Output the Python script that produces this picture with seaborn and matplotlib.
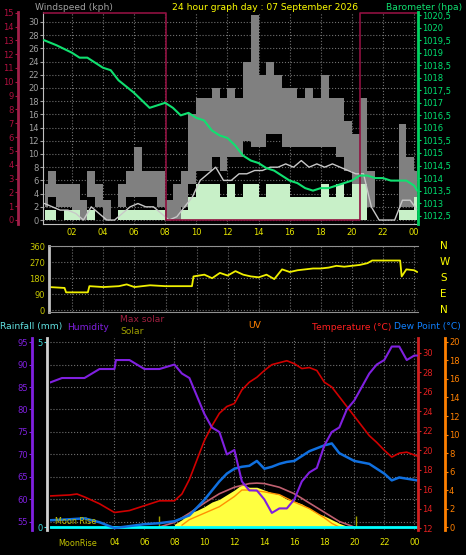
import numpy as np
import pandas as pd
import matplotlib
matplotlib.use("Agg")
import matplotlib.pyplot as plt
import seaborn as sns

sns.set_style("dark")
plt.rcParams['font.family'] = ['DejaVu Sans']

# ---------------- data ----------------
baro_t = [0.2, 1, 2, 2.5, 3, 4, 4.5, 5, 6, 6.5, 7, 7.5, 8, 8.5, 9, 9.5, 10, 10.5, 11, 11.5, 12, 12.5, 13, 13.5, 14, 14.5, 15, 15.5, 16, 16.5, 17, 17.5, 18, 18.5, 19, 19.5, 20, 20.5, 21, 21.5, 22, 22.5, 23, 23.5, 24.0, 24.2]
baro_v = [1019.5, 1019.3, 1019.0, 1018.8, 1018.8, 1018.4, 1018.3, 1017.9, 1017.4, 1017.1, 1016.8, 1016.9, 1017.0, 1016.8, 1016.5, 1016.6, 1016.4, 1016.3, 1015.9, 1015.7, 1015.6, 1015.3, 1014.9, 1014.7, 1014.6, 1014.4, 1014.3, 1014.1, 1013.9, 1013.8, 1013.6, 1013.5, 1013.6, 1013.6, 1013.7, 1013.8, 1013.9, 1014.1, 1014.1, 1014.0, 1014.0, 1013.9, 1013.9, 1013.9, 1013.7, 1013.5]

dark_t = [0.15, 8.05, 8.05, 20.5, 20.5, 24.25]
dark_v = [15, 15, 0, 0, 15, 15]

wind_t = [0.25, 0.75, 1.25, 1.75, 2.25, 2.75, 3.25, 3.75, 4.25, 4.75, 5.25, 5.75, 6.25, 6.75, 7.25, 7.75,
          8.25, 8.75, 9.25, 9.75, 10.25, 10.75, 11.25, 11.75, 12.25, 12.75, 13.25, 13.75, 14.25, 14.75,
          15.25, 15.75, 16.25, 16.75, 17.25, 17.75, 18.25, 18.75, 19.25, 19.75, 20.25, 20.75, 21.25,
          21.75, 22.25, 22.75, 23.25, 23.75, 24.2]
gust_hi = [5.5, 7.5, 5.5, 5.5, 5.5, 3, 7.5, 5.5, 3, 0, 5.5, 7.5, 11, 7.5, 7.5, 7.5,
           3, 5.5, 7.5, 16, 18.5, 18.5, 20, 18.5, 20, 18.5, 24, 31, 22, 24,
           22, 20, 20, 18.5, 20, 18.5, 22, 18.5, 18.5, 15, 13, 18.5, 7.5,
           0, 0, 0, 14.5, 9.5, 7.5]
gust_lo = [2, 3.5, 2, 2, 0, 0, 3.5, 2, 0, 0, 2, 3.5, 3.5, 3.5, 3.5, 2,
           0, 0, 2, 5.5, 7.5, 7.5, 9.5, 7.5, 9.5, 9.5, 12, 11, 11, 13,
           13, 11, 11, 11, 11, 11, 11, 11, 9.5, 7.5, 5.5, 5.5, 2,
           0, 0, 0, 2, 2, 3.5]
wind_avg = [2.5, 2, 1.5, 1.5, 1, 0, 2, 1, 0, 0, 1, 2, 2.5, 2, 2, 1,
            0, 0.5, 2, 3.5, 6, 7, 8, 6, 6, 7, 7, 7.5, 7.5, 8, 8, 8.5, 8, 9, 8, 8.5, 8, 8.5, 8, 7.5, 7, 7, 2,
            0, 0, 0, 3, 3, 1.5]
wind_spd = [1.5, 1.5, 0, 1.5, 1.5, 0, 1.5, 0, 0, 0, 1.5, 1.5, 1.5, 1.5, 1.5, 1.5,
            0, 0, 1.5, 3.5, 5.5, 5.5, 5.5, 3.5, 5.5, 3.5, 5.5, 5.5, 3.5, 5.5,
            5.5, 5.5, 3.5, 3.5, 3.5, 3.5, 5.5, 3.5, 5.5, 3.5, 5.5, 5.5, 0,
            0, 0, 0, 1.5, 1.5, 3.5]

dir_t = [0.5, 1.5, 1.6, 2.0, 3.0, 3.1, 4.0, 5.0, 5.5, 6.0, 7.0, 8.0, 9.0, 9.7, 9.8, 10.5, 11.0, 11.5, 12.0, 12.5,
         13.0, 13.5, 14.0, 14.5, 15.0, 15.5, 16.0, 16.5, 17.0, 17.5, 18.0, 18.5, 19.0, 19.5, 20.0, 20.5, 21.0,
         21.3, 22.0, 23.1, 23.2, 23.5, 24.0, 24.2]
dir_v = [130, 125, 100, 100, 100, 135, 130, 135, 145, 130, 140, 135, 135, 135, 190, 200, 180, 210, 195, 220,
         200, 190, 185, 200, 175, 230, 215, 225, 230, 235, 235, 240, 250, 245, 250, 255, 265,
         280, 280, 280, 190, 230, 225, 215]

hum_t = [-0.3, 0.5, 1, 2, 3, 4, 4.1, 5, 5.5, 6, 7, 8, 8.5, 9, 9.5, 10, 10.5, 11, 11.5, 12, 12.5, 13, 13.5, 14,
         14.5, 15, 15.5, 16, 16.5, 17, 17.5, 18, 18.5, 19, 19.5, 20, 20.5, 21, 21.5, 22, 22.5, 23, 23.5, 24, 24.2]
hum_v = [86, 87, 87, 87, 89, 89, 91, 91, 90, 89, 89, 90, 88, 87, 83, 79, 76, 75, 70, 71, 64, 62, 62, 60,
         57, 58, 58, 60, 64, 66, 67, 72, 75, 76, 80, 82, 85, 88, 90, 91, 94, 94, 91, 92, 92]

temp_t = [-0.3, 1, 1.5, 2, 3, 4, 5, 6, 7, 8, 8.5, 9, 9.5, 10, 10.5, 11, 11.5, 12, 12.5, 13, 13.5, 14, 14.5, 15,
          15.5, 16, 16.5, 17, 17.5, 18, 18.5, 19, 19.5, 20, 20.5, 21, 21.5, 22, 22.5, 23, 23.5, 24.2]
temp_v = [15.3, 15.4, 15.5, 15.2, 14.5, 13.6, 13.8, 14.3, 14.8, 14.8, 15.5, 17, 19, 21, 22.5, 23.8, 24.5, 24.8,
          26.2, 27, 27.5, 28.2, 28.8, 29.0, 29.2, 28.9, 28.4, 28.5, 28.2, 27.0, 26.5, 25.5, 24.5, 23.5, 22.5,
          21.5, 20.8, 20.0, 19.3, 19.7, 19.8, 19.4]

dew_t = [-0.3, 1, 2, 3, 4, 5, 6, 7, 8, 9, 10, 11, 11.5, 12, 12.5, 13, 13.5, 14, 14.5, 15, 15.5, 16, 17, 18, 18.5,
         19, 20, 21, 22, 22.5, 23, 24.2]
dew_v = [12.8, 12.9, 13.0, 12.6, 12.0, 12.2, 12.4, 12.5, 12.7, 13.3, 14.9, 16.8, 17.6, 18.1, 18.3, 18.4, 18.9, 18.1,
         18.3, 18.6, 18.8, 18.9, 19.9, 20.5, 20.7, 19.7, 18.9, 18.6, 17.6, 16.9, 17.2, 16.9]

maxsol_t = [7, 8, 9, 10, 11, 12, 13, 13.5, 14, 15, 16, 17, 18, 19, 20]
maxsol_v = [0, 0.5, 1.5, 2.6, 3.6, 4.3, 4.7, 4.75, 4.7, 4.3, 3.6, 2.6, 1.6, 0.6, 0]

sol_t = [8, 8.5, 9, 9.5, 10, 10.5, 11, 11.5, 12, 12.5, 13, 13.5, 14, 14.5, 15, 15.5, 16, 16.5, 17, 17.5, 18,
         18.5, 19, 19.5, 20]
sol_v = [0.3, 0.8, 1.5, 1.8, 2.2, 2.7, 3.0, 3.5, 4.0, 4.6, 4.3, 4.3, 4.0, 3.7, 3.5, 3.0, 2.8, 2.5, 2.0, 1.5,
         1.2, 0.8, 0.4, 0.1, 0]

uv_t = [8.5, 9, 10, 11, 12, 12.5, 13, 14, 15, 16, 17, 18, 18.5, 19]
uv_v = [0.2, 0.8, 1.5, 2.2, 3.3, 4.0, 4.0, 3.8, 3.5, 2.7, 2.0, 1.0, 0.4, 0]

rain_t = [-0.3, 24.2]
rain_v = [0, 0]

hour_ticks = [2, 4, 6, 8, 10, 12, 14, 16, 18, 20, 22, 24]
hour_labels = ["02", "04", "06", "08", "10", "12", "14", "16", "18", "20", "22", "00"]

# ---------------- figure ----------------
W, H = 466, 555
fig = plt.figure(figsize=(W / 100, H / 100), dpi=100, facecolor="black")

def box(x0, y0, x1, y1):
    return [x0 / W, 1 - y1 / H, (x1 - x0) / W, (y1 - y0) / H]

FS = 6.0
TF = 6.6
GRID = dict(color="#707070", linestyle=":", linewidth=0.8)

def line(ax, x, y, **kw):
    sns.lineplot(x=x, y=y, ax=ax, estimator=None, sort=False, **kw)
    ax.set_ylabel("")
    ax.set_xlabel("")

def style(ax):
    ax.set_facecolor("black")
    for s in ax.spines.values():
        s.set_visible(False)
    ax.grid(True, **GRID)

# ---- top panel ----
ax1 = fig.add_axes(box(43, 12, 418, 224))
style(ax1)
ax1.set_xlim(0.15, 24.25)
ax1.set_ylim(-0.6, 31.5)
ax1.fill_between(wind_t, gust_lo, gust_hi, step="mid", color="#808080", lw=0)
ax1.fill_between(wind_t, 0, wind_spd, step="mid", color="#c8f0c8", lw=0)
line(ax1, wind_t, wind_avg, color="#c8c8c8", lw=1)
ax1.set_yticks(range(0, 31, 2))
ax1.tick_params(axis="y", colors="#a0a0a0", labelsize=FS, length=2, pad=1)
ax1.set_xticks(hour_ticks)
ax1.set_xticklabels(hour_labels)
ax1.tick_params(axis="x", colors="#e6e600", labelsize=FS, length=2, pad=1)
ax1.spines["bottom"].set_visible(True); ax1.spines["bottom"].set_color("#c0c0c0")
ax1.spines["left"].set_visible(True); ax1.spines["left"].set_color("#c0c0c0")

axd = ax1.twinx()
axd.yaxis.set_ticks_position("left")
axd.spines["left"].set_visible(True)
axd.spines["left"].set_position(("axes", -0.067))
axd.spines["left"].set_color("#a0204a")
axd.spines["left"].set_linewidth(2)
for s in ["right", "top", "bottom"]:
    axd.spines[s].set_visible(False)
axd.set_ylim(-0.29, 15.05)
line(axd, dark_t, dark_v, color="#901040", lw=1.2)
axd.set_yticks(range(0, 16))
axd.tick_params(axis="y", colors="#b01040", labelsize=FS, length=2, pad=1)

axb = ax1.twinx()
axb.spines["right"].set_visible(True)
axb.spines["right"].set_color("#00d060"); axb.spines["right"].set_linewidth(2)
for s in ["left", "top", "bottom"]:
    axb.spines[s].set_visible(False)
axb.set_ylim(1012.17, 1020.62)
line(axb, baro_t, baro_v, color="#10e070", lw=1.5)
bt = np.arange(1012.5, 1020.6, 0.5)
axb.set_yticks(bt)
axb.set_yticklabels([("%.1f" % v).replace(".0", "").replace(".", ",") for v in bt])
axb.tick_params(axis="y", colors="#00e070", labelsize=FS, length=2, pad=1)

fig.text(35 / W, 1 - 7 / H, "Windspeed (kph)", color="#a0a0a0", fontsize=TF, va="center")
fig.text(265 / W, 1 - 7 / H, "24 hour graph day : 07 September 2026", color="#ffff00", fontsize=TF, va="center", ha="center")
fig.text(462 / W, 1 - 7 / H, "Barometer (hpa)", color="#10e070", fontsize=TF, va="center", ha="right")

# ---- middle panel ----
ax2 = fig.add_axes(box(49, 246, 418, 312))
style(ax2)
ax2.set_xlim(0.5, 24.25)
ax2.set_ylim(-11, 362)
line(ax2, dir_t, dir_v, color="#f0f000", lw=1.3)
ax2.set_yticks([0, 90, 180, 270, 360])
ax2.set_xticks(hour_ticks)
ax2.set_xticklabels([])
ax2.tick_params(axis="x", length=0)
ax2.tick_params(axis="y", colors="#c8c800", labelsize=FS, length=2, pad=1)
ax2.spines["left"].set_visible(True); ax2.spines["left"].set_color("#c0c0c0"); ax2.spines["left"].set_linewidth(2)
ax2.spines["bottom"].set_visible(True); ax2.spines["bottom"].set_color("#909090")
ax2.spines["top"].set_visible(True); ax2.spines["top"].set_color("#909090")
for i, c in enumerate("NWSEN"):
    fig.text(440 / W, 1 - (246 + i * 16) / H, c, color="#ffff00", fontsize=7.5, va="center")

# ---- bottom panel ----
ax3 = fig.add_axes(box(50, 338, 418, 530))
style(ax3)
ax3.set_xlim(-0.3, 24.25)
ax3.set_ylim(53.2, 95.9)
ax3.set_yticks(range(55, 96, 5))
ax3.set_xticks(hour_ticks[1:])
ax3.set_xticklabels(hour_labels[1:])
ax3.tick_params(axis="x", colors="#e6e600", labelsize=FS, length=2, pad=4)
ax3.yaxis.set_ticks_position("left")
ax3.spines["left"].set_visible(True)
ax3.spines["left"].set_position(("axes", -0.049))
ax3.spines["left"].set_color("#8020e0"); ax3.spines["left"].set_linewidth(2)
ax3.tick_params(axis="y", colors="#8020e0", labelsize=FS, length=2, pad=1)

axuv = ax3.twinx()
axuv.set_ylim(-0.32, 20.43)
axuv.grid(False)
axuv.spines["right"].set_visible(True)
axuv.spines["right"].set_position(("axes", 1.073))
axuv.spines["right"].set_color("#ff8000"); axuv.spines["right"].set_linewidth(2)
for s in ["left", "top", "bottom"]:
    axuv.spines[s].set_visible(False)
axuv.fill_between(sol_t, 0, sol_v, color="#ffff40", lw=0, zorder=1)
line(axuv, maxsol_t, maxsol_v, color="#c06070", lw=1.2)
line(axuv, uv_t, uv_v, color="#ff9000", lw=1)
axuv.vlines([7.0, 20.1], 0, 1.2, color="#a0a000", lw=1)
axuv.set_yticks(range(0, 21, 2))
axuv.tick_params(axis="y", colors="#ff8000", labelsize=FS, length=2, pad=1)

axr = ax3.twinx()
axr.yaxis.set_ticks_position("left")
axr.spines["left"].set_visible(True)
axr.spines["left"].set_position(("axes", -0.008))
axr.spines["left"].set_color("#d0d0d0"); axr.spines["left"].set_linewidth(2)
for s in ["right", "top", "bottom"]:
    axr.spines[s].set_visible(False)
axr.set_ylim(-0.08, 5.11)
line(axr, rain_t, rain_v, color="#00ffff", lw=2)
axr.set_yticks([0, 5])
axr.tick_params(axis="y", colors="#40e0e0", labelsize=FS, length=2, pad=1)

axt = ax3.twinx()
axt.set_ylim(11.8, 31.54)
axt.spines["right"].set_visible(True)
axt.spines["right"].set_color("#d02020"); axt.spines["right"].set_linewidth(2)
for s in ["left", "top", "bottom"]:
    axt.spines[s].set_visible(False)
line(axt, temp_t, temp_v, color="#d00000", lw=1.2)
line(axt, dew_t, dew_v, color="#1070e0", lw=1.8)
axt.set_yticks(range(12, 31, 2))
axt.tick_params(axis="y", colors="#e02020", labelsize=FS, length=2, pad=1)

axh = ax3.twinx()
axh.set_ylim(53.2, 95.9)
for s in axh.spines.values():
    s.set_visible(False)
line(axh, hum_t, hum_v, color="#8020e0", lw=1.5)
axh.set_yticks([])

fig.text(0 / W, 1 - 327 / H, "Rainfall (mm)", color="#60e0e0", fontsize=TF, va="center")
fig.text(67 / W, 1 - 327 / H, "Humidity", color="#8020e0", fontsize=TF, va="center")
fig.text(120 / W, 1 - 320 / H, "Max solar", color="#a02040", fontsize=TF, va="center")
fig.text(120 / W, 1 - 332 / H, "Solar", color="#a0a000", fontsize=TF, va="center")
fig.text(248 / W, 1 - 326 / H, "UV", color="#ff8000", fontsize=TF, va="center")
fig.text(312 / W, 1 - 327 / H, "Temperature (°C)", color="#ff2020", fontsize=TF, va="center")
fig.text(394 / W, 1 - 327 / H, "Dew Point (°C)", color="#1080ff", fontsize=TF, va="center")
fig.text(55 / W, 1 - 521 / H, "Moon Rise", color="#c0c000", fontsize=5.8, va="center")
fig.text(58 / W, 1 - 543 / H, "MoonRise", color="#c0c000", fontsize=5.8, va="center")

fig.savefig("out.png", dpi=100, facecolor="black")
